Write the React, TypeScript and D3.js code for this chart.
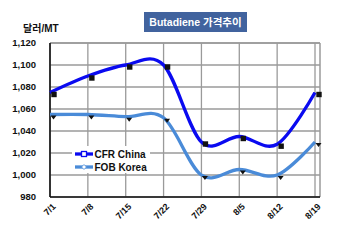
import React from "react";
import * as d3 from "d3";

const categories = ["7/1", "7/8", "7/15", "7/22", "7/29", "8/5", "8/12", "8/19"];
const cfrChina = [1075, 1090, 1100, 1100, 1030, 1035, 1028, 1075];
const fobKorea = [1055, 1055, 1053, 1052, 1000, 1005, 1000, 1030];
const yTicks = [980, 1000, 1020, 1040, 1060, 1080, 1100, 1120];
const seriesNames = ["CFR China", "FOB Korea"];

const W = 350, H = 241;
const L = 50, R = 320, T = 43, B = 197;
const FONT = "'Liberation Sans', Arial, 'Noto Sans CJK KR', sans-serif";
const CFR_COLOR = "#0A0AF0";
const FOB_COLOR = "#4A8BD8";

export default function App() {
  const x = d3.scalePoint<string>().domain(categories).range([L, 315]);
  const y = d3.scaleLinear().domain([980, 1120]).range([B, T]);
  const line = d3
    .line<number>()
    .x((_, i) => x(categories[i]) as number)
    .y((d) => y(d))
    .curve(d3.curveCatmullRom.alpha(0));
  const fmt = d3.format(",");

  return (
    <div style={{ position: "absolute", left: 0, top: 0 }}>
      <svg width={W} height={H} style={{ display: "block", background: "#fff" }} fontFamily={FONT}>
        <rect x={0} y={0} width={W} height={H} fill="#fff" />
        {/* title */}
        <rect x={144} y={12} width={103} height={20} fill="#41639E" />
        <text x={195.5} y={22} dy="0.36em" textAnchor="middle" fill="#fff" fontWeight="bold" fontSize={10.5}>
          Butadiene 가격추이
        </text>
        {/* unit */}
        <text x={23} y={28} dy="0.35em" fontWeight="bold" fontSize={10} fill="#111">
          달러/MT
        </text>
        {/* grid */}
        {yTicks.map((t) => (
          <line key={"h" + t} x1={L} x2={R} y1={y(t)} y2={y(t)} stroke="#9a9a9a" strokeWidth={1.3} />
        ))}
        {categories.map((c) => (
          <line key={"v" + c} x1={x(c)} x2={x(c)} y1={T} y2={B} stroke="#9a9a9a" strokeWidth={1.3} />
        ))}
        <line x1={R} x2={R} y1={T} y2={B} stroke="#9a9a9a" strokeWidth={1.5} />
        <line x1={L} x2={R} y1={T} y2={T} stroke="#9a9a9a" strokeWidth={1.5} />
        {/* axes */}
        <line x1={L} x2={L} y1={T} y2={B} stroke="#111" strokeWidth={1.6} />
        <line x1={L} x2={R} y1={B} y2={B} stroke="#111" strokeWidth={1.6} />
        {/* y tick labels */}
        {yTicks.map((t) => (
          <text key={"yl" + t} x={36} y={y(t)} dy="0.35em" textAnchor="end" fontWeight="bold" fontSize={9.5} fill="#111">
            {fmt(t)}
          </text>
        ))}
        {/* x tick labels */}
        {categories.map((c) => (
          <text
            key={"xl" + c}
            transform={`translate(${(x(c) as number) + 4},${B + 8}) rotate(-45)`}
            textAnchor="end"
            dy="0.35em"
            fontWeight="bold"
            fontSize={9}
            fill="#111"
          >
            {c}
          </text>
        ))}
        {/* legend background */}
        <rect x={72} y={146} width={78} height={27} fill="#fff" />
        {/* lines */}
        <path d={line(fobKorea) || ""} fill="none" stroke={FOB_COLOR} strokeWidth={3.3} />
        <path d={line(cfrChina) || ""} fill="none" stroke={CFR_COLOR} strokeWidth={3.3} />
        {/* markers */}
        {cfrChina.map((v, i) => (
          <rect
            key={"cm" + i}
            x={(x(categories[i]) as number) + 4 - 2.7}
            y={y(v) + 2 - 2.7}
            width={5.4}
            height={5.4}
            fill="#111"
          />
        ))}
        {fobKorea.map((v, i) => {
          const cx = (x(categories[i]) as number) + 3.5;
          const cy = y(v) + 2.5;
          return (
            <path
              key={"fm" + i}
              d={`M${cx - 3},${cy - 1.5} L${cx + 3},${cy - 1.5} L${cx},${cy + 2.5} Z`}
              fill="#111"
            />
          );
        })}
        {/* legend */}
        {seriesNames.map((name, i) => {
          const ly = 154 + i * 13;
          const col = i === 0 ? CFR_COLOR : FOB_COLOR;
          return (
            <g key={name}>
              <line x1={75} x2={93} y1={ly} y2={ly} stroke={col} strokeWidth={3.3} />
              {i === 0 ? (
                <rect x={81.5} y={ly - 2.5} width={5} height={5} fill="#fff" stroke={col} strokeWidth={1.3} />
              ) : (
                <path d={`M84,${ly - 2.5} L86.5,${ly} L84,${ly + 2.5} L81.5,${ly} Z`} fill="#fff" stroke={col} strokeWidth={0.8} />
              )}
              <text x={94.5} y={ly} dy="0.36em" fontWeight="bold" fontSize={10} fill="#111">
                {name}
              </text>
            </g>
          );
        })}
      </svg>
    </div>
  );
}
